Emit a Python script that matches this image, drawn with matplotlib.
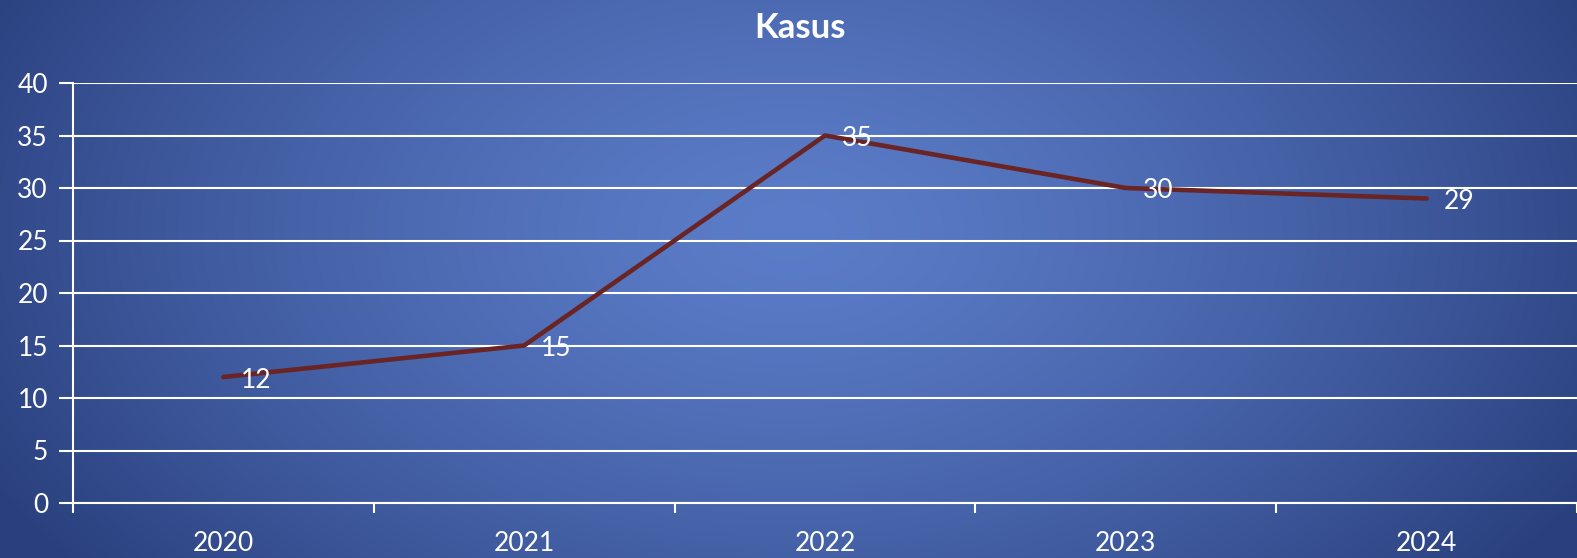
import numpy as np
import matplotlib.pyplot as plt

years = ['2020', '2021', '2022', '2023', '2024']
kasus = [12, 15, 35, 30, 29]
yticks = [0, 5, 10, 15, 20, 25, 30, 35, 40]

plt.rcParams['font.family'] = ['Lato', 'DejaVu Sans']

W, H = 1577, 558
fig = plt.figure(figsize=(W / 100, H / 100), dpi=100)

# radial blue background
bg = fig.add_axes([0, 0, 1, 1])
yy, xx = np.mgrid[0:H, 0:W]
d = np.sqrt(((xx - 790) / 900.0) ** 2 + ((yy - 230) / 560.0) ** 2)
d = np.clip(d, 0, 1) ** 1.4
inner = np.array([0x5b, 0x7c, 0xc8]) / 255
outer = np.array([0x2a, 0x40, 0x7e]) / 255
img = inner[None, None, :] * (1 - d[..., None]) + outer[None, None, :] * d[..., None]
bg.imshow(img, aspect='auto', extent=[0, 1, 0, 1])
bg.axis('off')

ax = fig.add_axes([73 / W, 1 - 503 / H, 1 - 73 / W, (503 - 83) / H])
ax.set_facecolor('none')
x = np.arange(len(years))
ax.plot(x, kasus, color='#6a2424', lw=3.3, solid_capstyle='round', zorder=3)
for xi, v in zip(x, kasus):
    ax.annotate(str(v), (xi, v), xytext=(17, -3), textcoords='offset pixels',
                ha='left', va='center', color='white', fontsize=19, zorder=4)

ax.set_xlim(-0.5, len(years) - 0.5)
ax.set_ylim(0, 40)
ax.set_yticks(yticks)
ax.grid(axis='y', color='white', lw=1.5)
ax.set_axisbelow(True)

ax.set_xticks(np.arange(-0.5, len(years), 1.0))
ax.set_xticklabels([])
ax.set_xticks(x, minor=True)
ax.set_xticklabels(years, minor=True)
ax.tick_params(axis='x', which='major', direction='out', length=7, width=1.5, color='white')
ax.tick_params(axis='x', which='minor', length=0, pad=20, labelsize=19, labelcolor='white')
ax.tick_params(axis='y', direction='out', length=10, width=1.5, color='white',
               labelsize=19, labelcolor='white', pad=8)

for s in ['top', 'right']:
    ax.spines[s].set_visible(False)
for s in ['left', 'bottom']:
    ax.spines[s].set_color('white')
    ax.spines[s].set_linewidth(1.5)

fig.text(800 / W, 1 - 28 / H, 'Kasus', ha='center', va='center', color='white',
         fontsize=25, fontweight='bold')

fig.savefig('out.png', dpi=100)
